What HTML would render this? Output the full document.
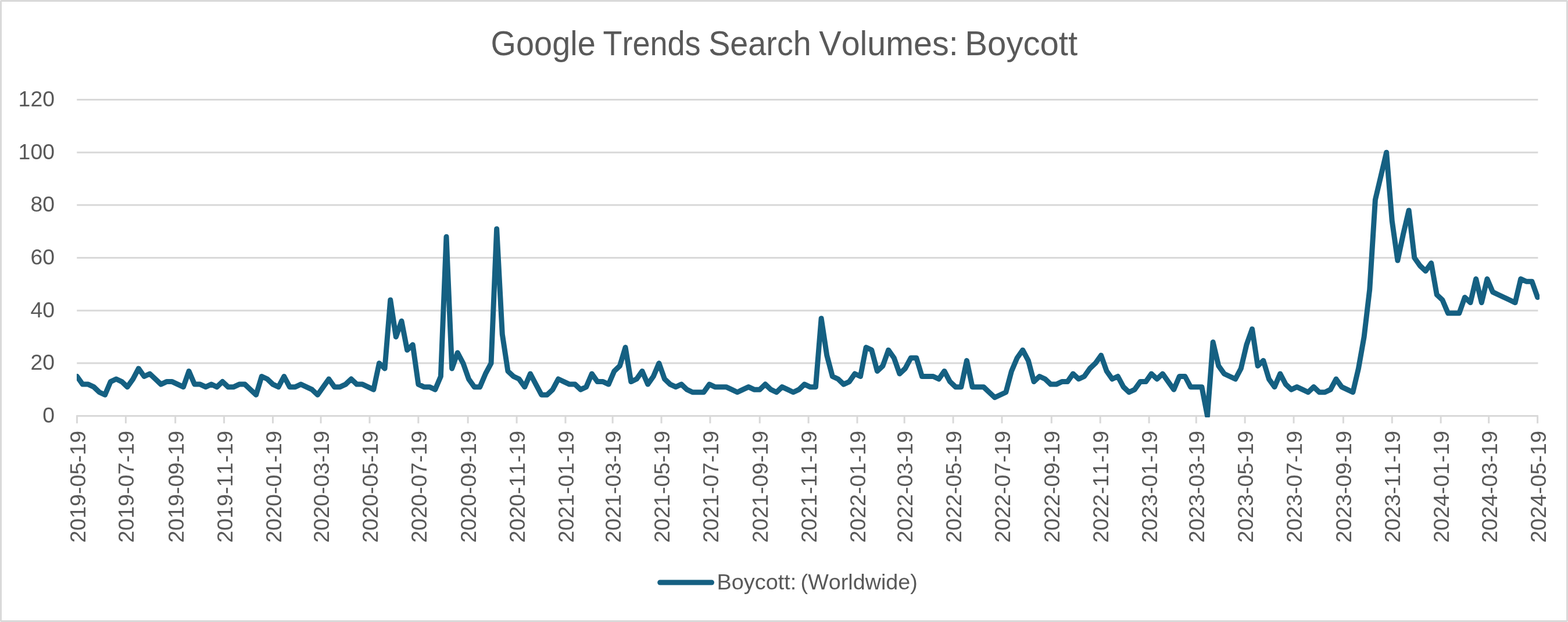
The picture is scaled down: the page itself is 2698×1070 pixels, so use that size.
<!DOCTYPE html>
<html><head><meta charset="utf-8"><title>Google Trends Search Volumes: Boycott</title>
<style>
html,body{margin:0;padding:0;background:#fff;}
body{width:2698px;height:1070px;overflow:hidden;}
svg{display:block;}
text{font-family:'Liberation Sans', Arial, sans-serif;fill:#595959;font-kerning:none;}
</style></head><body>
<svg width="2698" height="1070" viewBox="0 0 2698 1070">
<defs><clipPath id="pc"><rect x="132.05" y="0" width="2516.85" height="718"/></clipPath></defs>
<rect x="0" y="0" width="2698" height="1070" fill="#fff"/>
<rect x="1.5" y="1.5" width="2695" height="1067" rx="1" fill="#fff" stroke="#d9d9d9" stroke-width="3"/>
<g class="title">
<text x="844.62" y="95.2" font-size="58.7" textLength="180.10" lengthAdjust="spacingAndGlyphs">Google</text>
<text x="1037.41" y="95.2" font-size="58.7" textLength="168.18" lengthAdjust="spacingAndGlyphs">Trends</text>
<text x="1219.19" y="95.2" font-size="58.7" textLength="176.57" lengthAdjust="spacingAndGlyphs">Search</text>
<text x="1409.33" y="95.2" font-size="58.7" textLength="239.40" lengthAdjust="spacingAndGlyphs">Volumes:</text>
<text x="1660.27" y="95.2" font-size="58.7" textLength="193.92" lengthAdjust="spacingAndGlyphs">Boycott</text>
</g>
<line x1="132.3" y1="624.83" x2="2646.4" y2="624.83" stroke="#d9d9d9" stroke-width="3"/>
<line x1="132.3" y1="534.17" x2="2646.4" y2="534.17" stroke="#d9d9d9" stroke-width="3"/>
<line x1="132.3" y1="443.50" x2="2646.4" y2="443.50" stroke="#d9d9d9" stroke-width="3"/>
<line x1="132.3" y1="352.83" x2="2646.4" y2="352.83" stroke="#d9d9d9" stroke-width="3"/>
<line x1="132.3" y1="262.17" x2="2646.4" y2="262.17" stroke="#d9d9d9" stroke-width="3"/>
<line x1="132.3" y1="171.50" x2="2646.4" y2="171.50" stroke="#d9d9d9" stroke-width="3"/>
<line x1="131.2" y1="715.5" x2="2646.8" y2="715.5" stroke="#d9d9d9" stroke-width="3"/>
<line x1="132.50" y1="715.5" x2="132.50" y2="728.3" stroke="#d9d9d9" stroke-width="3"/>
<line x1="216.41" y1="715.5" x2="216.41" y2="728.3" stroke="#d9d9d9" stroke-width="3"/>
<line x1="301.69" y1="715.5" x2="301.69" y2="728.3" stroke="#d9d9d9" stroke-width="3"/>
<line x1="385.60" y1="715.5" x2="385.60" y2="728.3" stroke="#d9d9d9" stroke-width="3"/>
<line x1="469.51" y1="715.5" x2="469.51" y2="728.3" stroke="#d9d9d9" stroke-width="3"/>
<line x1="552.04" y1="715.5" x2="552.04" y2="728.3" stroke="#d9d9d9" stroke-width="3"/>
<line x1="635.95" y1="715.5" x2="635.95" y2="728.3" stroke="#d9d9d9" stroke-width="3"/>
<line x1="719.85" y1="715.5" x2="719.85" y2="728.3" stroke="#d9d9d9" stroke-width="3"/>
<line x1="805.14" y1="715.5" x2="805.14" y2="728.3" stroke="#d9d9d9" stroke-width="3"/>
<line x1="889.04" y1="715.5" x2="889.04" y2="728.3" stroke="#d9d9d9" stroke-width="3"/>
<line x1="972.95" y1="715.5" x2="972.95" y2="728.3" stroke="#d9d9d9" stroke-width="3"/>
<line x1="1054.11" y1="715.5" x2="1054.11" y2="728.3" stroke="#d9d9d9" stroke-width="3"/>
<line x1="1138.02" y1="715.5" x2="1138.02" y2="728.3" stroke="#d9d9d9" stroke-width="3"/>
<line x1="1221.92" y1="715.5" x2="1221.92" y2="728.3" stroke="#d9d9d9" stroke-width="3"/>
<line x1="1307.21" y1="715.5" x2="1307.21" y2="728.3" stroke="#d9d9d9" stroke-width="3"/>
<line x1="1391.11" y1="715.5" x2="1391.11" y2="728.3" stroke="#d9d9d9" stroke-width="3"/>
<line x1="1475.02" y1="715.5" x2="1475.02" y2="728.3" stroke="#d9d9d9" stroke-width="3"/>
<line x1="1556.18" y1="715.5" x2="1556.18" y2="728.3" stroke="#d9d9d9" stroke-width="3"/>
<line x1="1640.08" y1="715.5" x2="1640.08" y2="728.3" stroke="#d9d9d9" stroke-width="3"/>
<line x1="1723.99" y1="715.5" x2="1723.99" y2="728.3" stroke="#d9d9d9" stroke-width="3"/>
<line x1="1809.28" y1="715.5" x2="1809.28" y2="728.3" stroke="#d9d9d9" stroke-width="3"/>
<line x1="1893.18" y1="715.5" x2="1893.18" y2="728.3" stroke="#d9d9d9" stroke-width="3"/>
<line x1="1977.09" y1="715.5" x2="1977.09" y2="728.3" stroke="#d9d9d9" stroke-width="3"/>
<line x1="2058.25" y1="715.5" x2="2058.25" y2="728.3" stroke="#d9d9d9" stroke-width="3"/>
<line x1="2142.15" y1="715.5" x2="2142.15" y2="728.3" stroke="#d9d9d9" stroke-width="3"/>
<line x1="2226.06" y1="715.5" x2="2226.06" y2="728.3" stroke="#d9d9d9" stroke-width="3"/>
<line x1="2311.35" y1="715.5" x2="2311.35" y2="728.3" stroke="#d9d9d9" stroke-width="3"/>
<line x1="2395.25" y1="715.5" x2="2395.25" y2="728.3" stroke="#d9d9d9" stroke-width="3"/>
<line x1="2479.16" y1="715.5" x2="2479.16" y2="728.3" stroke="#d9d9d9" stroke-width="3"/>
<line x1="2561.69" y1="715.5" x2="2561.69" y2="728.3" stroke="#d9d9d9" stroke-width="3"/>
<line x1="2645.60" y1="715.5" x2="2645.60" y2="728.3" stroke="#d9d9d9" stroke-width="3"/>
<text x="94.0" y="727.10" font-size="37.4" text-anchor="end">0</text>
<text x="94.0" y="636.43" font-size="37.4" text-anchor="end">20</text>
<text x="94.0" y="545.77" font-size="37.4" text-anchor="end">40</text>
<text x="94.0" y="455.10" font-size="37.4" text-anchor="end">60</text>
<text x="94.0" y="364.43" font-size="37.4" text-anchor="end">80</text>
<text x="94.0" y="273.77" font-size="37.4" text-anchor="end">100</text>
<text x="94.0" y="183.10" font-size="37.4" text-anchor="end">120</text>
<text transform="translate(146.50,741.0) rotate(-90)" font-size="37.7" text-anchor="end">2019-05-19</text>
<text transform="translate(230.41,741.0) rotate(-90)" font-size="37.7" text-anchor="end">2019-07-19</text>
<text transform="translate(315.69,741.0) rotate(-90)" font-size="37.7" text-anchor="end">2019-09-19</text>
<text transform="translate(399.60,741.0) rotate(-90)" font-size="37.7" text-anchor="end">2019-11-19</text>
<text transform="translate(483.51,741.0) rotate(-90)" font-size="37.7" text-anchor="end">2020-01-19</text>
<text transform="translate(566.04,741.0) rotate(-90)" font-size="37.7" text-anchor="end">2020-03-19</text>
<text transform="translate(649.95,741.0) rotate(-90)" font-size="37.7" text-anchor="end">2020-05-19</text>
<text transform="translate(733.85,741.0) rotate(-90)" font-size="37.7" text-anchor="end">2020-07-19</text>
<text transform="translate(819.14,741.0) rotate(-90)" font-size="37.7" text-anchor="end">2020-09-19</text>
<text transform="translate(903.04,741.0) rotate(-90)" font-size="37.7" text-anchor="end">2020-11-19</text>
<text transform="translate(986.95,741.0) rotate(-90)" font-size="37.7" text-anchor="end">2021-01-19</text>
<text transform="translate(1068.11,741.0) rotate(-90)" font-size="37.7" text-anchor="end">2021-03-19</text>
<text transform="translate(1152.02,741.0) rotate(-90)" font-size="37.7" text-anchor="end">2021-05-19</text>
<text transform="translate(1235.92,741.0) rotate(-90)" font-size="37.7" text-anchor="end">2021-07-19</text>
<text transform="translate(1321.21,741.0) rotate(-90)" font-size="37.7" text-anchor="end">2021-09-19</text>
<text transform="translate(1405.11,741.0) rotate(-90)" font-size="37.7" text-anchor="end">2021-11-19</text>
<text transform="translate(1489.02,741.0) rotate(-90)" font-size="37.7" text-anchor="end">2022-01-19</text>
<text transform="translate(1570.18,741.0) rotate(-90)" font-size="37.7" text-anchor="end">2022-03-19</text>
<text transform="translate(1654.08,741.0) rotate(-90)" font-size="37.7" text-anchor="end">2022-05-19</text>
<text transform="translate(1737.99,741.0) rotate(-90)" font-size="37.7" text-anchor="end">2022-07-19</text>
<text transform="translate(1823.28,741.0) rotate(-90)" font-size="37.7" text-anchor="end">2022-09-19</text>
<text transform="translate(1907.18,741.0) rotate(-90)" font-size="37.7" text-anchor="end">2022-11-19</text>
<text transform="translate(1991.09,741.0) rotate(-90)" font-size="37.7" text-anchor="end">2023-01-19</text>
<text transform="translate(2072.25,741.0) rotate(-90)" font-size="37.7" text-anchor="end">2023-03-19</text>
<text transform="translate(2156.15,741.0) rotate(-90)" font-size="37.7" text-anchor="end">2023-05-19</text>
<text transform="translate(2240.06,741.0) rotate(-90)" font-size="37.7" text-anchor="end">2023-07-19</text>
<text transform="translate(2325.35,741.0) rotate(-90)" font-size="37.7" text-anchor="end">2023-09-19</text>
<text transform="translate(2409.25,741.0) rotate(-90)" font-size="37.7" text-anchor="end">2023-11-19</text>
<text transform="translate(2493.16,741.0) rotate(-90)" font-size="37.7" text-anchor="end">2024-01-19</text>
<text transform="translate(2575.69,741.0) rotate(-90)" font-size="37.7" text-anchor="end">2024-03-19</text>
<text transform="translate(2659.60,741.0) rotate(-90)" font-size="37.7" text-anchor="end">2024-05-19</text>
<g clip-path="url(#pc)"><polyline fill="none" stroke="#156082" stroke-width="9" stroke-linejoin="round" stroke-linecap="round" points="132.50,647.50 142.13,661.10 151.76,661.10 161.39,665.63 171.01,674.70 180.64,679.23 190.27,656.57 199.90,652.03 209.53,656.57 219.16,665.63 228.79,652.03 238.42,633.90 248.04,647.50 257.67,642.97 267.30,652.03 276.93,661.10 286.56,656.57 296.19,656.57 305.82,661.10 315.45,665.63 325.07,638.43 334.70,661.10 344.33,661.10 353.96,665.63 363.59,661.10 373.22,665.63 382.85,656.57 392.48,665.63 402.10,665.63 411.73,661.10 421.36,661.10 430.99,670.17 440.62,679.23 450.25,647.50 459.88,652.03 469.51,661.10 479.13,665.63 488.76,647.50 498.39,665.63 508.02,665.63 517.65,661.10 527.28,665.63 536.91,670.17 546.54,679.23 556.16,665.63 565.79,652.03 575.42,665.63 585.05,665.63 594.68,661.10 604.31,652.03 613.94,661.10 623.57,661.10 633.19,665.63 642.82,670.17 652.45,624.83 662.08,633.90 671.71,516.03 681.34,579.50 690.97,552.30 700.60,602.17 710.22,593.10 719.85,661.10 729.48,665.63 739.11,665.63 748.74,670.17 758.37,647.50 768.00,407.23 777.63,633.90 787.25,606.70 796.88,624.83 806.51,652.03 816.14,665.63 825.77,665.63 835.40,642.97 845.03,624.83 854.66,393.63 864.28,574.97 873.91,638.43 883.54,647.50 893.17,652.03 902.80,665.63 912.43,642.97 922.06,661.10 931.69,679.23 941.31,679.23 950.94,670.17 960.57,652.03 970.20,656.57 979.83,661.10 989.46,661.10 999.09,670.17 1008.71,665.63 1018.34,642.97 1027.97,656.57 1037.60,656.57 1047.23,661.10 1056.86,638.43 1066.49,629.37 1076.12,597.63 1085.74,656.57 1095.37,652.03 1105.00,638.43 1114.63,661.10 1124.26,647.50 1133.89,624.83 1143.52,652.03 1153.15,661.10 1162.77,665.63 1172.40,661.10 1182.03,670.17 1191.66,674.70 1201.29,674.70 1210.92,674.70 1220.55,661.10 1230.18,665.63 1239.80,665.63 1249.43,665.63 1259.06,670.17 1268.69,674.70 1278.32,670.17 1287.95,665.63 1297.58,670.17 1307.21,670.17 1316.83,661.10 1326.46,670.17 1336.09,674.70 1345.72,665.63 1355.35,670.17 1364.98,674.70 1374.61,670.17 1384.24,661.10 1393.86,665.63 1403.49,665.63 1413.12,547.77 1422.75,611.23 1432.38,647.50 1442.01,652.03 1451.64,661.10 1461.27,656.57 1470.89,642.97 1480.52,647.50 1490.15,597.63 1499.78,602.17 1509.41,638.43 1519.04,629.37 1528.67,602.17 1538.30,615.77 1547.92,642.97 1557.55,633.90 1567.18,615.77 1576.81,615.77 1586.44,647.50 1596.07,647.50 1605.70,647.50 1615.33,652.03 1624.95,638.43 1634.58,656.57 1644.21,665.63 1653.84,665.63 1663.47,620.30 1673.10,665.63 1682.73,665.63 1692.36,665.63 1701.98,674.70 1711.61,683.77 1721.24,679.23 1730.87,674.70 1740.50,638.43 1750.13,615.77 1759.76,602.17 1769.39,620.30 1779.01,656.57 1788.64,647.50 1798.27,652.03 1807.90,661.10 1817.53,661.10 1827.16,656.57 1836.79,656.57 1846.41,642.97 1856.04,652.03 1865.67,647.50 1875.30,633.90 1884.93,624.83 1894.56,611.23 1904.19,638.43 1913.82,652.03 1923.44,647.50 1933.07,665.63 1942.70,674.70 1952.33,670.17 1961.96,656.57 1971.59,656.57 1981.22,642.97 1990.85,652.03 2000.47,642.97 2010.10,656.57 2019.73,670.17 2029.36,647.50 2038.99,647.50 2048.62,665.63 2058.25,665.63 2067.88,665.63 2077.50,715.50 2087.13,588.57 2096.76,629.37 2106.39,642.97 2116.02,647.50 2125.65,652.03 2135.28,633.90 2144.91,593.10 2154.53,565.90 2164.16,629.37 2173.79,620.30 2183.42,652.03 2193.05,665.63 2202.68,642.97 2212.31,661.10 2221.94,670.17 2231.56,665.63 2241.19,670.17 2250.82,674.70 2260.45,665.63 2270.08,674.70 2279.71,674.70 2289.34,670.17 2298.97,652.03 2308.59,665.63 2318.22,670.17 2327.85,674.70 2337.48,633.90 2347.11,579.50 2356.74,497.90 2366.37,343.77 2376.00,302.97 2385.62,262.17 2395.25,380.03 2404.88,448.03 2414.51,402.70 2424.14,361.90 2433.77,443.50 2443.40,457.10 2453.03,466.17 2462.65,452.57 2472.28,506.97 2481.91,516.03 2491.54,538.70 2501.17,538.70 2510.80,538.70 2520.43,511.50 2530.06,520.57 2539.68,479.77 2549.31,520.57 2558.94,479.77 2568.57,502.43 2578.20,506.97 2587.83,511.50 2597.46,516.03 2607.09,520.57 2616.71,479.77 2626.34,484.30 2635.97,484.30 2645.60,511.50"/></g>
<line x1="1135.7" y1="1002" x2="1224.5" y2="1002" stroke="#156082" stroke-width="9" stroke-linecap="round"/>
<text x="1233.41" y="1013.8" font-size="37.4" textLength="136.90" lengthAdjust="spacingAndGlyphs">Boycott:</text>
<text x="1377.57" y="1013.8" font-size="37.4" textLength="201.34" lengthAdjust="spacingAndGlyphs">(Worldwide)</text>
</svg></body></html>
